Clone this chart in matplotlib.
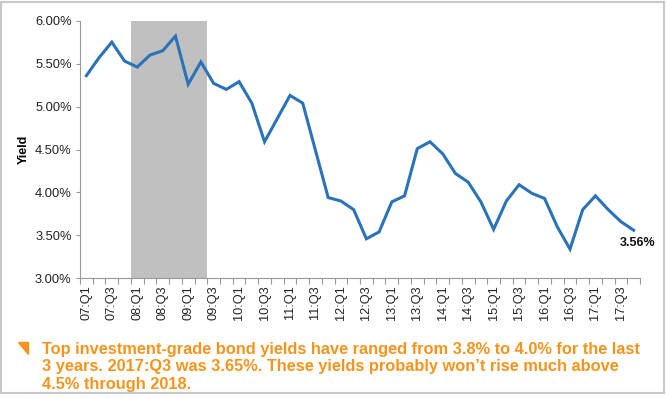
import matplotlib
matplotlib.use("Agg")
import matplotlib.pyplot as plt
from matplotlib.patches import Rectangle, Polygon
import numpy as np

plt.rcParams['font.family'] = ['Liberation Sans', 'DejaVu Sans']

years = ["07", "08", "09", "10", "11", "12", "13", "14", "15", "16", "17"]
quarters = ["Q1", "Q2", "Q3", "Q4"]
categories = [f"{y}:{q}" for y in years for q in quarters]

yields = [5.36, 5.57, 5.75, 5.53, 5.46, 5.60, 5.65, 5.82,
          5.26, 5.52, 5.27, 5.20, 5.29, 5.04, 4.59, 4.86,
          5.13, 5.04, 4.49, 3.94, 3.90, 3.80, 3.46, 3.54,
          3.89, 3.96, 4.51, 4.59, 4.45, 4.22, 4.12, 3.89,
          3.57, 3.90, 4.09, 3.99, 3.93, 3.60, 3.34, 3.80,
          3.96, 3.80, 3.66, 3.56]

shade_start, shade_end = "08:Q1", "09:Q2"
y_ticks = [3.0, 3.5, 4.0, 4.5, 5.0, 5.5, 6.0]
end_label = "3.56%"
note_lines = ["Top investment-grade bond yields have ranged from 3.8% to 4.0% for the last",
              "3 years. 2017:Q3 was 3.65%. These yields probably won\u2019t rise much above",
              "4.5% through 2018."]

W, H = 667, 399
fig = plt.figure(figsize=(W / 100, H / 100), dpi=100)
ax = fig.add_axes([80 / W, (H - 278.3) / H, 560 / W, 257.6 / H])

x = np.arange(len(categories))
i0 = categories.index(shade_start)
i1 = categories.index(shade_end)
ax.axvspan(i0 - 0.5, i1 + 0.5, color='#c0c0c0', lw=0, zorder=1)
ax.plot(x, yields, color='#2a73b8', lw=2.2, zorder=3, solid_joinstyle='miter')

ax.set_xlim(-0.5, len(categories) - 0.5)
ax.set_ylim(3.0, 6.0)
ax.set_yticks(y_ticks)
ax.set_yticklabels([f"{v:.2f}%" for v in y_ticks], fontsize=9.3, color='#222222')

ax.set_xticks(np.arange(len(categories) + 1) - 0.5)
ax.set_xticklabels([])
ax.set_xticks(x[::2], minor=True)
ax.set_xticklabels(categories[::2], minor=True, rotation=90, fontsize=9.2, color='#222222')
ax.tick_params(axis='x', which='major', length=4, color='#999999', width=0.8)
ax.tick_params(axis='x', which='minor', length=0, pad=5)
ax.tick_params(axis='y', length=3, color='#999999', width=0.8, pad=3)

for s in ['top', 'right']:
    ax.spines[s].set_visible(False)
for s in ['left', 'bottom']:
    ax.spines[s].set_color('#999999')
    ax.spines[s].set_linewidth(0.8)

ax.set_ylabel("Yield", fontsize=9, fontweight='bold', labelpad=4)

ax.annotate(end_label, xy=(x[-1], yields[-1]), xytext=(3, -9.5), textcoords='offset points',
            ha='center', va='center', fontsize=9, fontweight='bold', color='#111111')

# outer border
fig.patches.append(Rectangle((1.5 / W, (H - 393) / H), 662 / W, 391 / H, transform=fig.transFigure,
                             fill=False, edgecolor='#c8c8c8', lw=1.5))
orange = '#f7941d'
fig.patches.append(Polygon([(18 / W, 1 - 342 / H), (28 / W, 1 - 342 / H), (28 / W, 1 - 354 / H)],
                           closed=True, transform=fig.transFigure, color=orange))
for line, base in zip(note_lines, [354, 371.5, 389]):
    fig.text(41.5 / W, 1 - base / H, line, ha='left', va='baseline', fontsize=11.8,
             fontweight='bold', color=orange)

fig.savefig("out.png", dpi=100)
